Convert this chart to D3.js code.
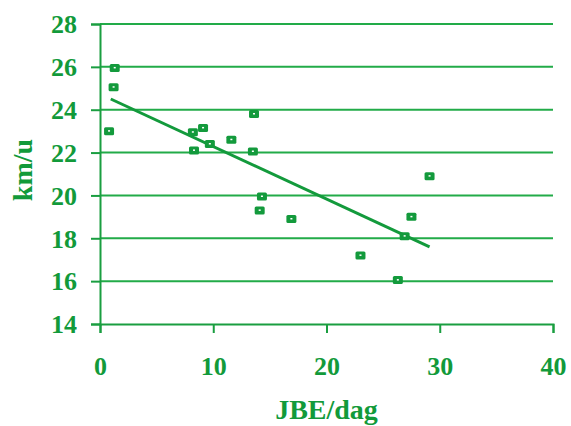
<!DOCTYPE html>
<html>
<head>
<meta charset="utf-8">
<script src="https://cdn.jsdelivr.net/npm/d3@7"></script>
<style>
  body { margin: 0; background: #fff; }
</style>
</head>
<body>
<div id="chart"></div>
<script>
// data
var jbe = [0.8, 1.2, 1.3, 8.2, 8.3, 9.1, 9.7, 11.6, 13.5, 13.6, 14.1, 14.3, 16.9, 23.0, 26.3, 26.9, 27.5, 29.1];
var kmu = [23.0, 25.05, 25.95, 22.95, 22.1, 23.15, 22.4, 22.6, 22.05, 23.8, 19.3, 19.95, 18.9, 17.2, 16.05, 18.1, 19.0, 20.9];
var trendX = [0.95, 29.1];
var trendY = [24.5, 17.6];
var xTicks = [0, 10, 20, 30, 40];
var yTicks = [14, 16, 18, 20, 22, 24, 26, 28];

var green = "#1a9e40";
var textGreen = "#129a3a";
var serif = "'Liberation Serif', 'Times New Roman', 'DejaVu Serif', serif";

var width = 571, height = 426;
var margin = {left: 100, top: 24, right: 18, bottom: 102};

var svg = d3.select("#chart").append("svg")
    .attr("width", width)
    .attr("height", height);

var x = d3.scaleLinear().domain([0, 40]).range([margin.left, width - margin.right]);
var y = d3.scaleLinear().domain([14, 28]).range([height - margin.bottom, margin.top]);

// gridlines
svg.selectAll(".grid")
    .data(yTicks.slice(1))
    .enter().append("line")
    .attr("class", "grid")
    .attr("x1", x(0)).attr("x2", x(40))
    .attr("y1", d => y(d)).attr("y2", d => y(d))
    .style("stroke", "#22ab48")
    .style("stroke-width", 2);

// y axis
var yAxis = svg.append("g")
    .attr("transform", "translate(" + x(0) + ",0)")
    .call(d3.axisLeft(y).tickValues(yTicks).tickSize(9).tickPadding(14));

// x axis
var xAxis = svg.append("g")
    .attr("transform", "translate(0," + y(14) + ")")
    .call(d3.axisBottom(x).tickValues(xTicks).tickSize(9).tickPadding(24));

[xAxis, yAxis].forEach(function(a) {
  a.attr("font-family", null).attr("font-size", null);
  a.select(".domain").style("stroke", green).style("stroke-width", 2);
  a.selectAll(".tick line").style("stroke", green).style("stroke-width", 2);
  a.selectAll(".tick text")
      .style("font-family", serif)
      .style("font-weight", "bold")
      .style("font-size", "26px")
      .style("fill", textGreen);
});
yAxis.selectAll(".tick text").attr("dy", "0.34em");

// trend line
svg.append("line")
    .attr("x1", x(trendX[0])).attr("y1", y(trendY[0]))
    .attr("x2", x(trendX[1])).attr("y2", y(trendY[1]))
    .style("stroke", "#139a3c")
    .style("stroke-width", 3);

// points
var pts = svg.selectAll(".pt")
    .data(jbe.map((d, i) => [d, kmu[i]]))
    .enter().append("g")
    .attr("transform", d => "translate(" + x(d[0]) + "," + y(d[1]) + ")");

pts.append("rect")
    .attr("x", -5).attr("y", -4)
    .attr("width", 10).attr("height", 8)
    .attr("rx", 1.5)
    .style("fill", "#139a3c");

pts.append("rect")
    .attr("x", -1).attr("y", -1)
    .attr("width", 2).attr("height", 1.5)
    .style("fill", "#fff");

// axis titles
svg.append("text")
    .attr("x", x(20))
    .attr("y", 419)
    .attr("text-anchor", "middle")
    .style("font-family", serif)
    .style("font-weight", "bold")
    .style("font-size", "28px")
    .style("fill", textGreen)
    .text("JBE/dag");

svg.append("text")
    .attr("transform", "translate(32," + 170 + ") rotate(-90)")
    .attr("text-anchor", "middle")
    .style("font-family", serif)
    .style("font-weight", "bold")
    .style("font-size", "28px")
    .style("fill", textGreen)
    .text("km/u");
</script>
</body>
</html>
